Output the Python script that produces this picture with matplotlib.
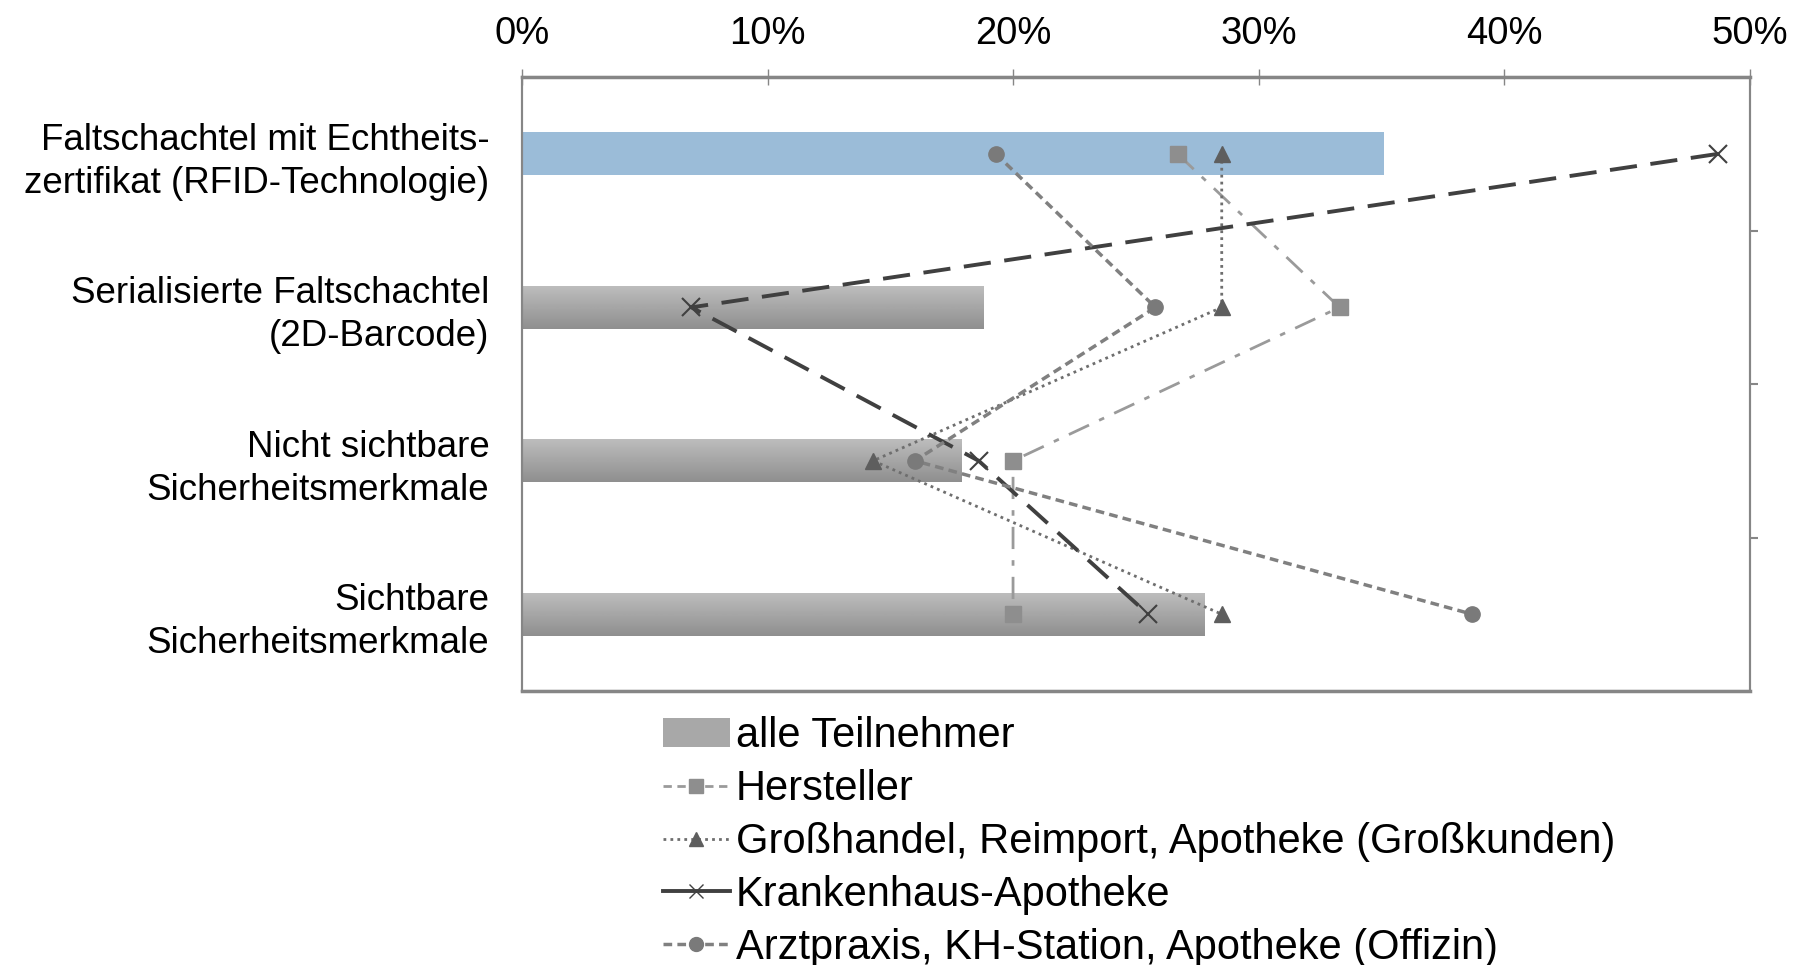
import numpy as np
import matplotlib
matplotlib.use("Agg")
import matplotlib.pyplot as plt
from matplotlib.ticker import PercentFormatter, FixedLocator
from matplotlib.patches import Patch
from matplotlib.lines import Line2D

plt.rcParams['font.family'] = ['Liberation Sans', 'DejaVu Sans']

# Data
categories = [
    "Faltschachtel mit Echtheits-\nzertifikat (RFID-Technologie)",
    "Serialisierte Faltschachtel\n(2D-Barcode)",
    "Nicht sichtbare\nSicherheitsmerkmale",
    "Sichtbare\nSicherheitsmerkmale",
]
alle = [0.351, 0.188, 0.179, 0.278]
hersteller = [0.267, 0.333, 0.200, 0.200]
grosshandel = [0.285, 0.285, 0.143, 0.285]
krankenhaus = [0.487, 0.069, 0.186, 0.255]
arztpraxis = [0.193, 0.258, 0.160, 0.387]

x_ticks = [0.0, 0.1, 0.2, 0.3, 0.4, 0.5]

fig = plt.figure(figsize=(18, 9.65), dpi=100)
ax = fig.add_axes([0.29, 0.284, 0.682, 0.636])

y = np.arange(len(categories))
bar_h = 0.28
bars = ax.barh(y, alle, height=bar_h, color="#a8a8a8", linewidth=0, zorder=1)

# gradient fill for bars (top bar highlighted in blue)
grad = np.linspace(0.74, 0.56, 64).reshape(-1, 1)
for i, b in enumerate(bars):
    if i == 0:
        b.set_facecolor("#9bbcd8")
        continue
    b.set_facecolor("none")
    im = ax.imshow(grad, cmap="gray", vmin=0, vmax=1, aspect="auto",
                   extent=(0, alle[i], y[i] + bar_h / 2, y[i] - bar_h / 2),
                   origin="upper", zorder=1, interpolation="bilinear")
    im.set_clip_path(b)

common = dict(markersize=11, zorder=3)
ax.plot(hersteller, y, color="#9a9a9a", linestyle=(0, (8, 4, 2, 4)), linewidth=2,
        marker="s", markerfacecolor="#8e8e8e", markeredgecolor="#8e8e8e", **common)
ax.plot(grosshandel, y, color="#6e6e6e", linestyle=(0, (1, 1.5)), linewidth=2,
        marker="^", markerfacecolor="#5e5e5e", markeredgecolor="#5e5e5e", **common)
ax.plot(krankenhaus, y, color="#404040", linestyle=(0, (7, 3.5)), linewidth=2.8,
        marker="x", markeredgecolor="#404040", markeredgewidth=1.5, markersize=13, zorder=3)
ax.plot(arztpraxis, y, color="#808080", linestyle=(0, (2.5, 1.5)), linewidth=2.5,
        marker="o", markerfacecolor="#7a7a7a", markeredgecolor="#7a7a7a", **common)

ax.set_xlim(0, 0.5)
ax.set_ylim(3.5, -0.5)

ax.xaxis.tick_top()
ax.xaxis.set_major_locator(FixedLocator(x_ticks))
ax.xaxis.set_major_formatter(PercentFormatter(1.0, decimals=0))
ax.tick_params(axis="x", direction="inout", length=12, width=1, color="#868686",
               labelsize=27.5, pad=12)

# right side boundary ticks
ax2 = ax.twinx()
ax2.set_ylim(3.5, -0.5)
ax2.set_yticks([0.5, 1.5, 2.5])
ax2.set_yticklabels([])
ax2.tick_params(axis="y", direction="out", length=6, color="#868686", width=1.5)

ax.set_yticks(y)
ax.set_yticklabels(categories, fontsize=26.5, linespacing=1.3)
ax.tick_params(axis="y", left=False, right=False, labelleft=True, pad=20)

for a in (ax, ax2):
    for s in a.spines.values():
        s.set_color("#868686")
        s.set_linewidth(1.5)
ax.spines["top"].set_linewidth(2.5)
ax.spines["bottom"].set_linewidth(2.5)

handles = [
    Patch(facecolor="#a8a8a8", edgecolor="none"),
    Line2D([], [], color="#9a9a9a", linestyle=(0, (3, 2)), linewidth=2,
           marker="s", markerfacecolor="#8e8e8e", markeredgecolor="#8e8e8e", markersize=10),
    Line2D([], [], color="#6e6e6e", linestyle=(0, (1, 1.5)), linewidth=2,
           marker="^", markerfacecolor="#5e5e5e", markeredgecolor="#5e5e5e", markersize=10),
    Line2D([], [], color="#404040", linestyle="-", linewidth=2.8,
           marker="x", markeredgecolor="#404040", markersize=10),
    Line2D([], [], color="#808080", linestyle=(0, (2.5, 1.5)), linewidth=2.5,
           marker="o", markerfacecolor="#7a7a7a", markeredgecolor="#7a7a7a", markersize=10),
]
labels = [
    "alle Teilnehmer",
    "Hersteller",
    "Großhandel, Reimport, Apotheke (Großkunden)",
    "Krankenhaus-Apotheke",
    "Arztpraxis, KH-Station, Apotheke (Offizin)",
]
fig.legend(handles, labels, loc="upper left", bbox_to_anchor=(0.359, 0.275),
           frameon=False, fontsize=30, handlelength=1.6, handletextpad=0.15,
           labelspacing=0.31, borderaxespad=0)

fig.savefig("out.png", dpi=100)
